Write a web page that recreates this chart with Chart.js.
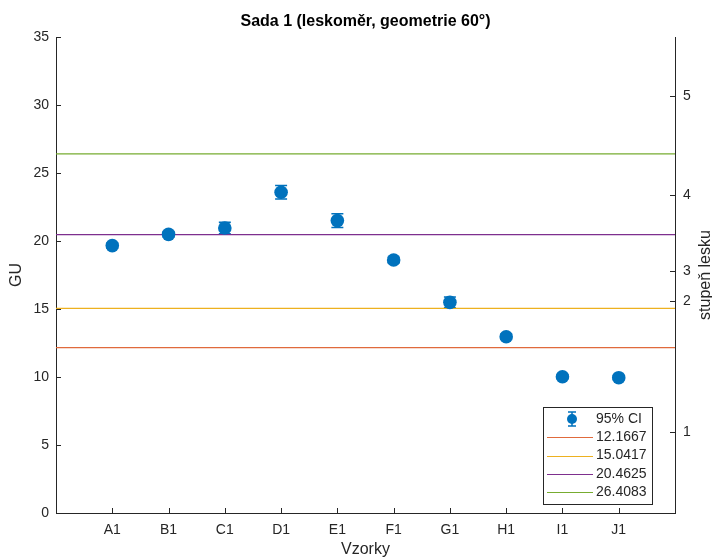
<!DOCTYPE html>
<html>
<head>
<meta charset="utf-8">
<script src="https://cdn.jsdelivr.net/npm/chart.js@4.4.1/dist/chart.umd.min.js"></script>
<style>
  html, body { margin: 0; padding: 0; background: #ffffff; }
  canvas { display: block; }
</style>
</head>
<body>
<canvas id="glossChart" width="712" height="560"></canvas>
<script>
// Samples and measured gloss (GU) with 95% CI half-widths
const sampleLabels = ['A1', 'B1', 'C1', 'D1', 'E1', 'F1', 'G1', 'H1', 'I1', 'J1'];
const guMean = [19.66, 20.49, 20.96, 23.58, 21.5, 18.6, 15.49, 12.96, 10.02, 9.95];
const guCI = [0.2, 0.2, 0.42, 0.5, 0.5, 0.2, 0.4, 0.2, 0.15, 0.15];

// Threshold lines between gloss grades
const thresholds = [12.1667, 15.0417, 20.4625, 26.4083];
const thresholdColors = ['#E06A3C', '#EDB120', '#7E2F8E', '#77AC30'];

// Right axis: gloss grade ticks placed on the GU scale
const gradePositions = [5.96, 15.6, 17.8, 23.38, 30.66];
const gradeLabels = ['1', '2', '3', '4', '5'];

const guMin = 0;
const guMax = 35;
const axisColor = '#262626';
const fontFamily = '"Liberation Sans", Arial, Helvetica, sans-serif';
const pointColor = 'rgb(0, 114, 189)';

const datasets = [{
    type: 'scatter',
    label: '95% CI',
    data: guMean.map((v, i) => ({ x: i + 1, y: v })),
    backgroundColor: pointColor,
    borderColor: pointColor,
    borderWidth: 0,
    pointRadius: 6.8,
    yAxisID: 'y',
    order: 0
}];
thresholds.forEach((t, i) => {
    datasets.push({
        type: 'line',
        label: String(t),
        data: [{ x: 0, y: t }, { x: sampleLabels.length + 1, y: t }],
        borderColor: thresholdColors[i],
        backgroundColor: thresholdColors[i],
        borderWidth: 1.2,
        pointRadius: 0,
        yAxisID: 'y',
        order: 1
    });
});

// Error bars for the means, drawn under the markers
const errorBars = {
    id: 'errorBars',
    beforeDatasetsDraw(chart) {
        const ctx = chart.ctx;
        const xs = chart.scales.x, ys = chart.scales.y;
        ctx.save();
        ctx.strokeStyle = pointColor;
        ctx.lineWidth = 1.5;
        guMean.forEach((v, i) => {
            const px = xs.getPixelForValue(i + 1);
            const top = ys.getPixelForValue(v + guCI[i]);
            const bot = ys.getPixelForValue(v - guCI[i]);
            ctx.beginPath();
            ctx.moveTo(px, top); ctx.lineTo(px, bot);
            ctx.moveTo(px - 6, top); ctx.lineTo(px + 6, top);
            ctx.moveTo(px - 6, bot); ctx.lineTo(px + 6, bot);
            ctx.stroke();
        });
        ctx.restore();
    }
};

// Inward ticks, titles and the legend box
const decorations = {
    id: 'decorations',
    afterDraw(chart) {
        const ctx = chart.ctx;
        const area = chart.chartArea;
        const xs = chart.scales.x, ys = chart.scales.y, y2 = chart.scales.y2;
        ctx.save();
        ctx.strokeStyle = axisColor;
        ctx.lineWidth = 1;
        ctx.beginPath();
        ys.ticks.forEach(t => {
            const py = Math.round(ys.getPixelForValue(t.value)) + 0.5;
            ctx.moveTo(area.left, py); ctx.lineTo(area.left + 5, py);
        });
        y2.ticks.forEach(t => {
            const py = Math.round(y2.getPixelForValue(t.value)) + 0.5;
            ctx.moveTo(area.right, py); ctx.lineTo(area.right - 5, py);
        });
        xs.ticks.forEach(t => {
            const px = Math.round(xs.getPixelForValue(t.value)) + 0.5;
            ctx.moveTo(px, area.bottom); ctx.lineTo(px, area.bottom - 5);
        });
        ctx.stroke();

        // titles
        ctx.textAlign = 'center';
        ctx.textBaseline = 'middle';
        ctx.font = 'bold 16px ' + fontFamily;
        ctx.fillStyle = '#000000';
        ctx.fillText('Sada 1 (leskoměr, geometrie 60°)', (area.left + area.right) / 2, 22);
        ctx.fillStyle = axisColor;
        ctx.font = '16px ' + fontFamily;
        ctx.fillText('Vzorky', (area.left + area.right) / 2, 550);
        const midY = (area.top + area.bottom) / 2;
        ctx.save();
        ctx.translate(17, midY);
        ctx.rotate(-Math.PI / 2);
        ctx.fillText('GU', 0, 0);
        ctx.restore();
        ctx.save();
        ctx.translate(706, midY);
        ctx.rotate(-Math.PI / 2);
        ctx.fillText('stupeň lesku', 0, 0);
        ctx.restore();

        // legend
        const lx = 543, ly = 407, lw = 109, lh = 97, rowH = 18.3;
        ctx.fillStyle = '#ffffff';
        ctx.fillRect(lx, ly, lw, lh);
        ctx.strokeStyle = axisColor;
        ctx.lineWidth = 1;
        ctx.strokeRect(lx + 0.5, ly + 0.5, lw, lh);
        ctx.font = '14px ' + fontFamily;
        ctx.textAlign = 'left';
        chart.data.datasets.forEach((ds, i) => {
            const ry = ly + 12 + i * rowH;
            if (ds.type === 'scatter') {
                ctx.strokeStyle = pointColor;
                ctx.lineWidth = 1.5;
                ctx.beginPath();
                ctx.moveTo(572, ry - 7); ctx.lineTo(572, ry + 7);
                ctx.moveTo(568, ry - 7); ctx.lineTo(576, ry - 7);
                ctx.moveTo(568, ry + 7); ctx.lineTo(576, ry + 7);
                ctx.stroke();
                ctx.fillStyle = pointColor;
                ctx.beginPath();
                ctx.arc(572, ry, 5, 0, Math.PI * 2);
                ctx.fill();
            } else {
                ctx.strokeStyle = ds.borderColor;
                ctx.lineWidth = 1.2;
                ctx.beginPath();
                ctx.moveTo(547, Math.round(ry) + 0.5);
                ctx.lineTo(593, Math.round(ry) + 0.5);
                ctx.stroke();
            }
            ctx.fillStyle = axisColor;
            ctx.fillText(ds.label, 596, ry);
        });
        ctx.restore();
    }
};

const tickFont = { family: fontFamily, size: 14 };

new Chart(document.getElementById('glossChart'), {
    data: { datasets: datasets },
    options: {
        responsive: false,
        animation: false,
        layout: { padding: { top: 37, left: 0, right: 0, bottom: 0 } },
        plugins: {
            legend: { display: false },
            tooltip: { enabled: false },
            title: { display: false }
        },
        scales: {
            x: {
                type: 'linear',
                min: 0,
                max: sampleLabels.length + 1,
                grid: { display: false, drawTicks: false },
                border: { display: true, color: axisColor, width: 1 },
                ticks: {
                    font: tickFont,
                    color: axisColor,
                    padding: 9,
                    autoSkip: false,
                    maxRotation: 0,
                    callback: v => sampleLabels[v - 1] || ''
                },
                afterBuildTicks: s => { s.ticks = sampleLabels.map((_, i) => ({ value: i + 1 })); },
                afterFit: s => { s.height = 47; }
            },
            y: {
                position: 'left',
                min: guMin,
                max: guMax,
                grid: { display: false, drawTicks: false },
                border: { display: true, color: axisColor, width: 1 },
                ticks: { stepSize: 5, font: tickFont, color: axisColor, padding: 7 },
                afterFit: s => { s.width = 56; }
            },
            y2: {
                position: 'right',
                min: guMin,
                max: guMax,
                grid: { display: false, drawTicks: false },
                border: { display: true, color: axisColor, width: 1 },
                ticks: {
                    font: tickFont,
                    color: axisColor,
                    padding: 8,
                    autoSkip: false,
                    callback: (v, i) => gradeLabels[i]
                },
                afterBuildTicks: s => { s.ticks = gradePositions.map(v => ({ value: v })); },
                afterFit: s => { s.width = 37; }
            }
        }
    },
    plugins: [errorBars, decorations]
});
</script>
</body>
</html>
